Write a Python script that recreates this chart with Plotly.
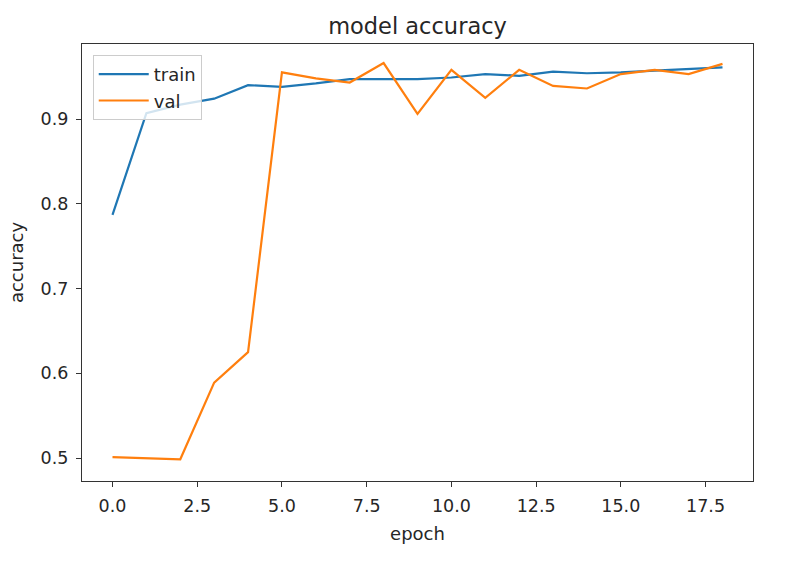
import plotly.graph_objects as go

epochs = list(range(19))
train_acc = [0.787, 0.907, 0.917, 0.924, 0.940, 0.938, 0.942, 0.947, 0.947, 0.947,
             0.949, 0.953, 0.951, 0.956, 0.954, 0.955, 0.957, 0.959, 0.961]
val_acc = [0.501, 0.4995, 0.4985, 0.589, 0.625, 0.955, 0.948, 0.943, 0.966, 0.906,
           0.958, 0.925, 0.958, 0.939, 0.936, 0.953, 0.958, 0.953, 0.965]
x_ticks = [0, 2.5, 5, 7.5, 10, 12.5, 15, 17.5]
y_ticks = [0.5, 0.6, 0.7, 0.8, 0.9]

font = "DejaVu Sans"
txt = "#262626"
fig = go.Figure()
fig.add_trace(go.Scatter(x=epochs, y=train_acc, mode="lines", name="train",
                         line=dict(color="#1f77b4", width=2.2)))
fig.add_trace(go.Scatter(x=epochs, y=val_acc, mode="lines", name="val",
                         line=dict(color="#ff7f0e", width=2.2)))

axis_common = dict(showline=True, linecolor="#333333", linewidth=1.3, mirror=True,
                   ticks="outside", ticklen=5, tickcolor="#333333", tickwidth=1.3,
                   showgrid=False, zeroline=False, ticklabelstandoff=4,
                   tickfont=dict(family=font, size=17.5, color=txt))
fig.update_layout(
    width=796, height=568,
    paper_bgcolor="white", plot_bgcolor="white",
    margin=dict(l=82, r=43, t=44, b=87),
    title=dict(text="model accuracy", x=0.5, xref="paper", xanchor="center",
               y=1, yref="paper", yanchor="bottom", pad=dict(b=10),
               font=dict(family=font, size=22.5, color=txt)),
    xaxis=dict(range=[-0.9, 18.9], tickvals=x_ticks, tickformat=".1f",
               title=dict(text="epoch", font=dict(family=font, size=18, color=txt), standoff=12),
               **axis_common),
    yaxis=dict(range=[0.4729, 0.9885], tickvals=y_ticks, tickformat=".1f",
               title=dict(text="accuracy", font=dict(family=font, size=18, color=txt), standoff=12),
               **axis_common),
    legend=dict(x=0.016, y=0.975, xanchor="left", yanchor="top",
                bgcolor="rgba(255,255,255,0.8)", bordercolor="#cccccc", borderwidth=1,
                itemwidth=50,
                font=dict(family=font, size=18, color=txt), tracegroupgap=0),
    showlegend=True,
)
fig.write_html("out.html")
